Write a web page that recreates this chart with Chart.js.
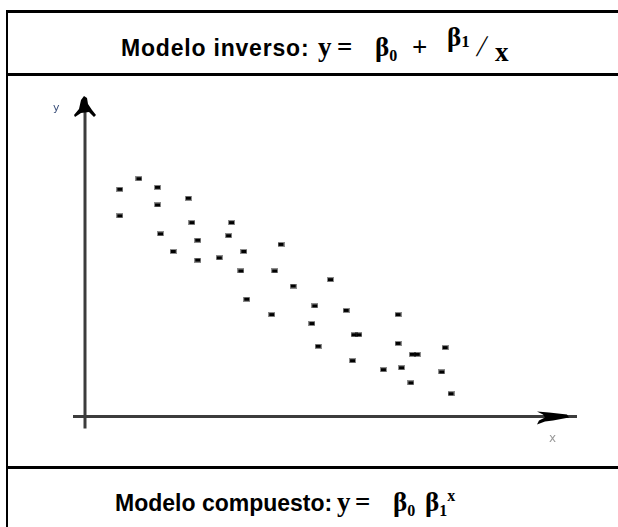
<!DOCTYPE html>
<html>
<head>
<meta charset="utf-8">
<script src="https://cdn.jsdelivr.net/npm/chart.js@4.4.0/dist/chart.umd.min.js"></script>
<style>
  html, body { margin: 0; padding: 0; background: #fff; }
  body { width: 618px; height: 527px; position: relative; overflow: hidden; }
  .frame { position: absolute; left: 6px; top: 10px; width: 640px; height: 540px;
           border-left: 2px solid #000; border-top: 3px solid #000; }
  .sep { position: absolute; left: 6px; width: 640px; height: 3px; background: #000; }
  .head { position: absolute; white-space: nowrap; color: #000; line-height: 30px; }
  .head span { display: inline-block; }
  .lbl { font-family: "Liberation Sans", Arial, sans-serif; font-weight: bold; font-size: 23px; }
  .m { font-family: "Liberation Serif", "DejaVu Serif", serif; font-weight: bold; font-size: 27px; }
  .m sub, .m sup { font-size: 16px; }
  .m sub { vertical-align: -5px; }
  .raise { position: relative; top: -10px; }
  .raise sub { font-size: 17px; vertical-align: -1px; }
  .slash { font-size: 30px; font-weight: normal; transform: skewX(-12deg); }
  .drop { position: relative; top: 5px; }
  #wrap { position: absolute; left: 8px; top: 76px; width: 610px; height: 391px; }
  .ax { position: absolute; font-family: "DejaVu Sans", sans-serif; }
</style>
</head>
<body>
<div class="frame"></div>
<div class="sep" style="top:73px"></div>
<div class="sep" style="top:466px"></div>

<div class="head" style="left:121px; top:31px;">
  <span class="lbl" style="width:197px; letter-spacing:0.8px">Modelo inverso:</span><span class="m" style="width:19px">y</span><span class="m" style="width:38px">=</span><span class="m" style="width:37px">β<sub>0</sub></span><span class="m" style="width:35px">+</span><span class="m raise" style="width:31px">β<sub>1</sub></span><span class="m slash" style="width:17px">/</span><span class="m drop">x</span>
</div>
<div class="head" style="left:115px; top:481px;">
  <span class="lbl" style="width:222px">Modelo compuesto:</span><span class="m" style="width:18px">y</span><span class="m" style="width:38px">=</span><span class="m" style="width:32px">β<sub>0</sub></span><span class="m">β<sub>1</sub><sup style="vertical-align:10px">x</sup></span>
</div>

<div id="wrap"><canvas id="chart" width="610" height="391"></canvas></div>
<div class="ax" style="left:53px; top:101px; font-size:11px; color:#3b4f7a;">y</div>
<div class="ax" style="left:549px; top:431px; font-size:12px; color:#9a9a9a;">x</div>

<script>
// scatter values (x 0..100, y 0..100)
const xValues = [7.1, 11.0, 14.8, 21.1, 14.8, 7.1, 21.8, 29.9, 15.4, 23.0,
                 29.3, 40.0, 18.0, 32.4, 23.0, 27.4, 31.8, 38.7, 42.5, 33.0,
                 38.1, 50.1, 46.9, 53.3, 63.9, 46.3, 54.9, 55.9, 47.6, 63.9,
                 73.5, 66.8, 67.8, 54.6, 60.9, 64.6, 72.8, 66.5, 74.7];
const yValues = [70.9, 74.2, 71.5, 68.1, 66.0, 62.6, 60.5, 60.5, 57.0, 55.0,
                 56.4, 53.7, 51.5, 51.5, 48.8, 49.5, 45.4, 45.4, 40.7, 36.6,
                 31.8, 42.7, 34.5, 33.1, 31.8, 29.0, 25.5, 25.5, 21.9, 22.8,
                 21.5, 19.4, 19.4, 17.4, 14.6, 15.2, 13.9, 10.5, 7.1];
const axisMin = 0;
const axisMax = 100;

const points = xValues.map((x, i) => ({ x: x, y: yValues[i] }));

// little dark dash used as the marker
const dot = document.createElement('canvas');
dot.width = 7;
dot.height = 5;
const dctx = dot.getContext('2d');
dctx.fillStyle = 'rgba(0,0,0,0.45)';
dctx.fillRect(0, 0, 7, 5);
dctx.fillStyle = '#000';
dctx.fillRect(1, 1, 5, 3);

// draws the two arrowed axes through the origin
const axesPlugin = {
  id: 'axes',
  beforeDatasetsDraw(chart) {
    const ctx = chart.ctx;
    const sx = chart.scales.x;
    const sy = chart.scales.y;
    const x0 = sx.getPixelForValue(axisMin);
    const y0 = sy.getPixelForValue(axisMin);
    const xEnd = sx.getPixelForValue(axisMax);
    const yEnd = sy.getPixelForValue(axisMax);

    ctx.save();
    ctx.strokeStyle = '#3c3c3c';
    ctx.lineWidth = 3;
    ctx.beginPath();
    ctx.moveTo(x0, y0 + 12);
    ctx.lineTo(x0, yEnd + 6);
    ctx.moveTo(x0 - 12, y0);
    ctx.lineTo(xEnd + 2, y0);
    ctx.stroke();

    ctx.fillStyle = '#000';
    // y arrow
    ctx.beginPath();
    ctx.moveTo(x0 - 1, yEnd);
    ctx.lineTo(x0 + 2, yEnd + 2);
    ctx.lineTo(x0 + 3, yEnd + 8);
    ctx.lineTo(x0 + 7, yEnd + 14);
    ctx.lineTo(x0 + 11, yEnd + 19);
    ctx.lineTo(x0 + 9, yEnd + 21);
    ctx.lineTo(x0 + 4, yEnd + 16);
    ctx.lineTo(x0 - 4, yEnd + 17);
    ctx.lineTo(x0 - 10, yEnd + 21);
    ctx.lineTo(x0 - 11, yEnd + 19);
    ctx.lineTo(x0 - 6, yEnd + 13);
    ctx.lineTo(x0 - 4, yEnd + 4);
    ctx.closePath();
    ctx.fill();
    // x arrow
    ctx.beginPath();
    ctx.moveTo(xEnd - 38, y0 - 5);
    ctx.lineTo(xEnd - 26, y0 - 4);
    ctx.lineTo(xEnd - 8, y0 - 2);
    ctx.lineTo(xEnd - 6, y0 + 1);
    ctx.lineTo(xEnd - 22, y0 + 4);
    ctx.lineTo(xEnd - 30, y0 + 5);
    ctx.lineTo(xEnd - 38, y0 + 8);
    ctx.lineTo(xEnd - 36, y0 + 4);
    ctx.lineTo(xEnd - 30, y0 + 1);
    ctx.lineTo(xEnd - 32, y0 - 2);
    ctx.closePath();
    ctx.fill();
    ctx.restore();
  }
};

new Chart(document.getElementById('chart'), {
  type: 'scatter',
  data: {
    datasets: [{
      data: points,
      pointStyle: dot,
      pointRadius: 3,
      pointHoverRadius: 3
    }]
  },
  options: {
    responsive: false,
    animation: false,
    devicePixelRatio: 1,
    layout: { padding: { left: 77, right: 43, top: 20, bottom: 50.5 } },
    plugins: { legend: { display: false }, tooltip: { enabled: false } },
    scales: {
      x: { display: false, min: axisMin, max: axisMax },
      y: { display: false, min: axisMin, max: axisMax }
    }
  },
  plugins: [axesPlugin]
});
</script>
</body>
</html>
